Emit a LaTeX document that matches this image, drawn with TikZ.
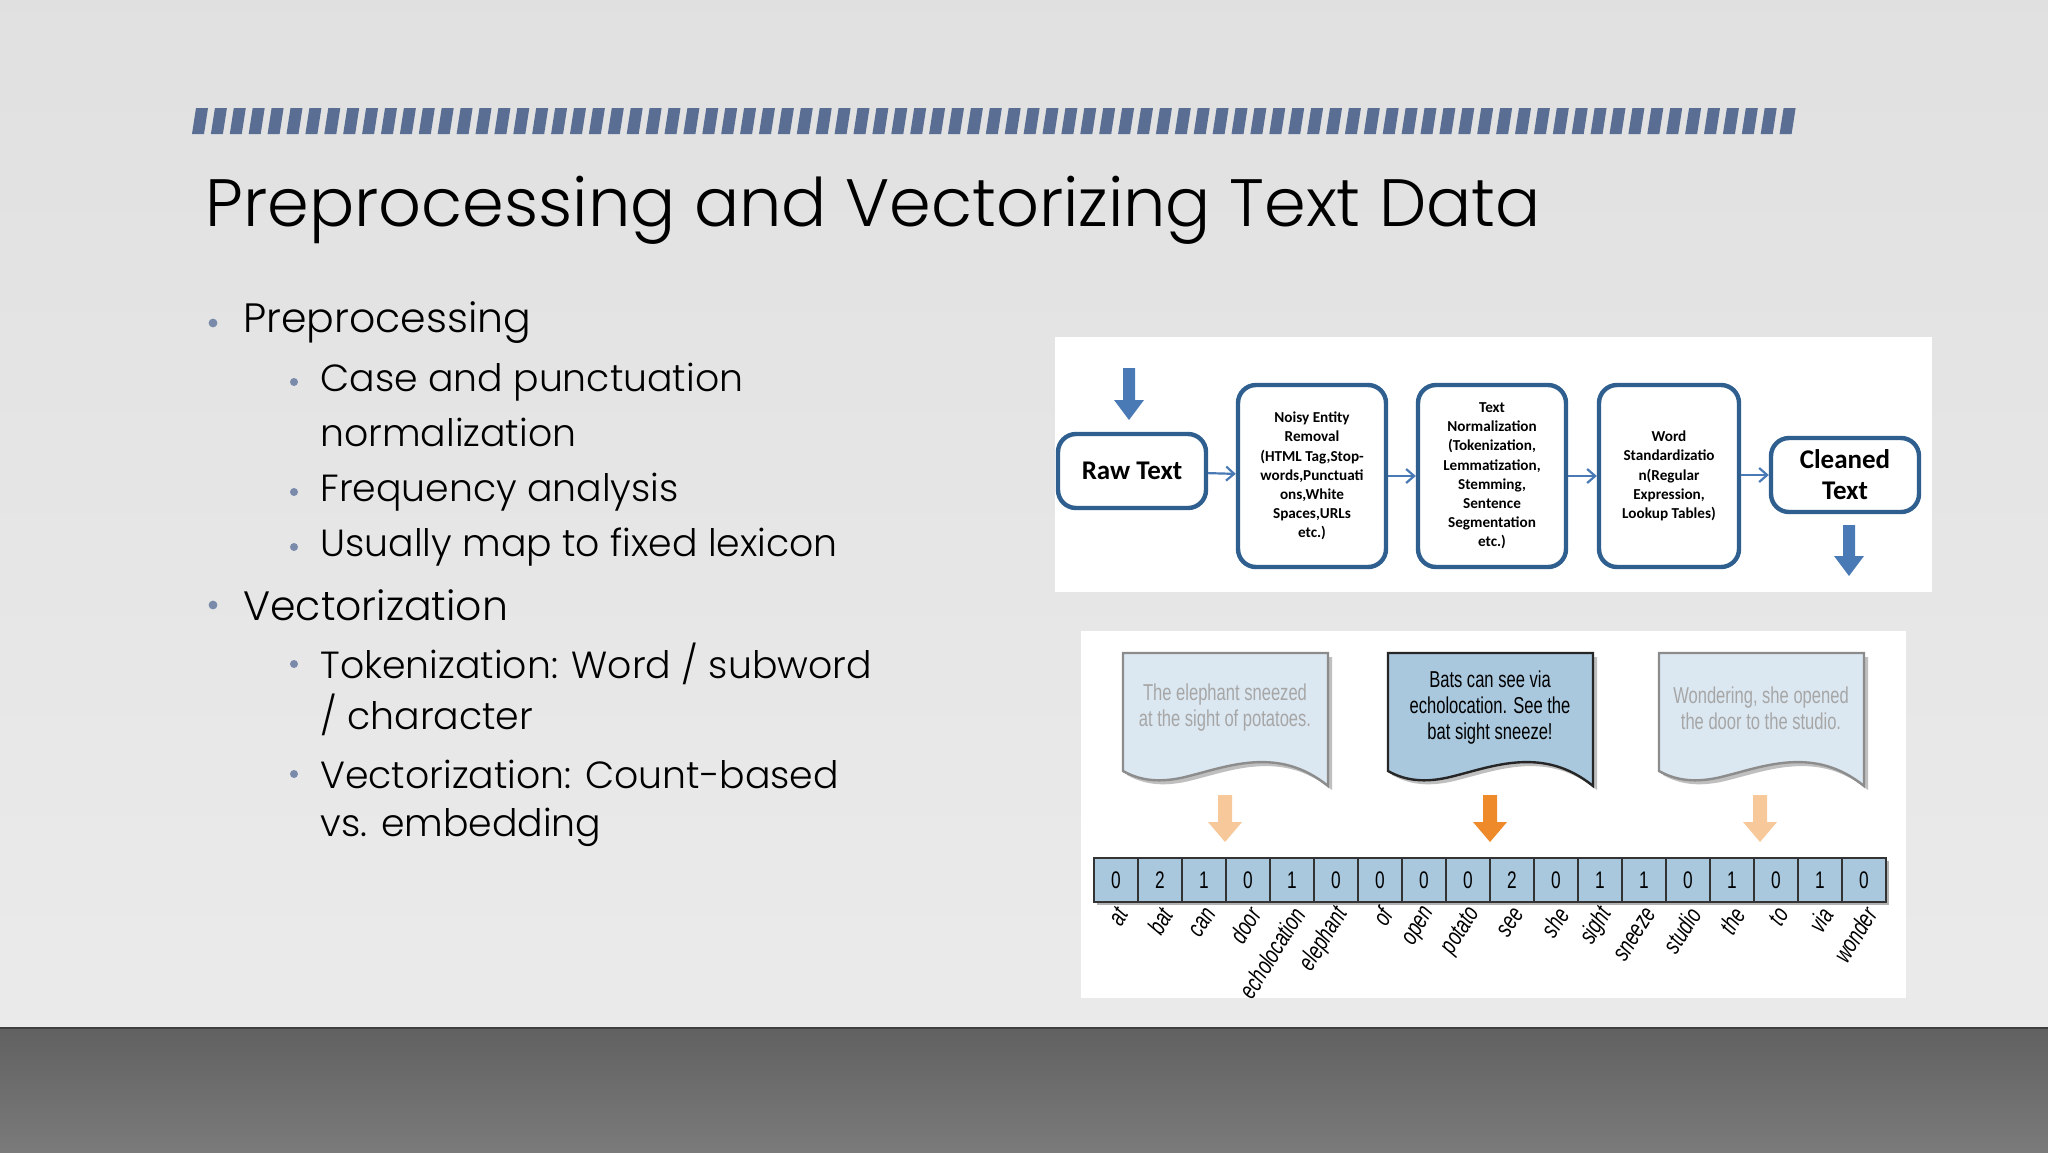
\documentclass[tikz,border=0pt]{standalone}
\usepackage{fontspec}
\setmainfont{Poppins}[UprightFont=* Light]
\newfontfamily\calib{Carlito}
\newfontfamily\cond[FakeStretch=0.72]{Liberation Sans}
\usetikzlibrary{arrows.meta}
\definecolor{stripe}{HTML}{5A6E94}
\definecolor{fblue}{HTML}{2F5F8F}
\definecolor{ablue}{HTML}{4A7AB5}
\definecolor{cellb}{HTML}{A9C8DE}
\definecolor{docl}{HTML}{DCE8F1}
\definecolor{docd}{HTML}{A9C8DE}
\definecolor{orl}{HTML}{F7C99A}
\definecolor{ord}{HTML}{EE8A2A}
\definecolor{bul}{HTML}{7A8AAA}
\tikzset{
  fbox/.style={draw=fblue,line width=2.2pt,rounded corners=9pt,fill=white,align=center,font=\calib\bfseries\fontsize{7.6}{9.6}\selectfont,inner sep=1pt},
  farr/.style={-{Straight Barb[length=4pt,width=7pt]},draw=ablue,line width=1.1pt},
  cell/.style={draw=black!80,line width=0.8pt,fill=cellb,minimum width=22pt,minimum height=22pt,inner sep=0pt,font=\cond\fontsize{12}{12}\selectfont},
  wlab/.style={rotate=58,anchor=east,font=\cond\itshape\fontsize{12.5}{12}\selectfont,inner sep=1pt},
  btext/.style={anchor=west,font=\fontsize{20.5}{24}\selectfont,inner sep=0pt},
  stext/.style={anchor=west,font=\fontsize{18.9}{22}\selectfont,inner sep=0pt},
}
\newcommand{\fatarrow}[7]{\fill[#1] (#2-#5,#3) -- (#2+#5,#3) -- (#2+#5,#4-#7) -- (#2+#6,#4-#7) -- (#2,#4) -- (#2-#6,#4-#7) -- (#2-#5,#4-#7) -- cycle;}
\begin{document}
\begin{tikzpicture}[x=0.5pt,y=-0.5pt]
\useasboundingbox (0,0) rectangle (2048,1152);
% background
\shade[top color=black!12,bottom color=black!8] (0,0) rectangle (2048,1028);
\shade[top color=black!62,bottom color=black!52] (0,1028) rectangle (2048,1152);
\draw[black!75,line width=1pt] (0,1028) -- (2048,1028);
% stripes
\foreach \i in {0,...,84} {
  \fill[stripe] ({196+\i*18.9},108) -- ({196+\i*18.9+12},108) -- ({192+\i*18.9+12},134) -- ({192+\i*18.9},134) -- cycle;
}
% title
\node[anchor=base west,inner sep=0pt,font=\fontsize{33.5}{40}\selectfont] (title) at (205,226) {Preprocessing and Vectorizing Text Data};
% bullets
\node[btext] (b1) at (243,323) {Preprocessing};
\node[stext] (s1) at (320,382) {Case and punctuation};
\node[stext] (s1b) at (320,432) {normalization};
\node[stext] (s2) at (320,492) {Frequency analysis};
\node[stext] (s3) at (320,547) {Usually map to fixed lexicon};
\node[btext] (b2) at (243,605) {Vectorization};
\node[stext] (s4) at (320,664) {Tokenization: Word / subword};
\node[stext] (s4b) at (320,715) {/ character};
\node[stext] (s5) at (320,774) {Vectorization: Count-based};
\node[stext] (s5b) at (320,827) {vs. embedding};
\foreach \n in {b1,b2} \fill[bul] ([xshift=-15pt]\n.west) circle (2.2pt);
\foreach \n in {s1,s2,s3,s4,s5} \fill[bul] ([xshift=-13pt]\n.west) circle (2pt);
% flowchart panel
\fill[white] (1055,337) rectangle (1932,592);
\node[fbox,minimum width=74pt,minimum height=37pt,font=\calib\bfseries\fontsize{13.5}{15}\selectfont] (raw) at (1132,471) {Raw Text};
\node[fbox,minimum width=74pt,minimum height=91pt] (noisy) at (1312,476) {Noisy Entity\\Removal\\(HTML Tag,Stop-\\words,Punctuati\\ons,White\\Spaces,URLs\\etc.)};
\node[fbox,minimum width=74pt,minimum height=91pt] (norm) at (1492,476) {Text\\Normalization\\(Tokenization,\\Lemmatization,\\Stemming,\\Sentence\\Segmentation\\etc.)};
\node[fbox,minimum width=70pt,minimum height=91pt] (word) at (1669,476) {Word\\Standardizatio\\n(Regular\\Expression,\\Lookup Tables)};
\node[fbox,minimum width=74pt,minimum height=37pt,font=\calib\bfseries\fontsize{13.5}{15.5}\selectfont] (clean) at (1845,475) {Cleaned\\Text};
\draw[farr] (raw) -- (noisy);
\draw[farr] (noisy) -- (norm);
\draw[farr] (norm) -- (word);
\draw[farr] (word.east|-clean) -- (clean);
\fatarrow{ablue}{1129}{368}{420}{6}{15}{20}
\fatarrow{ablue}{1849}{525}{576}{6}{15}{20}
% vector panel
\fill[white] (1081,631) rectangle (1906,998);
\foreach \nm/\xa/\col/\dr/\tc/\txt in {
 d1/1123/docl/black!45/black!35/{The elephant sneezed\\at the sight of potatoes.},
 d2/1388/docd/black!85/black/{Bats can see via\\echolocation. See the\\bat sight sneeze!},
 d3/1659/docl/black!45/black!35/{Wondering, she opened\\the door to the studio.}} {
  \fill[black!25] (\xa+4,657) -- (\xa+209,657) -- (\xa+209,790) .. controls (\xa+160,750) and (\xa+110,770) .. (\xa+70,780) .. controls (\xa+40,788) and (\xa+20,784) .. (\xa+4,775) -- cycle;
  \draw[draw=\dr,fill=\col,line width=1.2pt] (\xa,653) -- (\xa+205,653) -- (\xa+205,786) .. controls (\xa+156,746) and (\xa+106,766) .. (\xa+66,776) .. controls (\xa+36,784) and (\xa+16,780) .. (\xa,771) -- cycle;
  \node[align=center,text=\tc,font=\cond\fontsize{11.5}{13}\selectfont] (\nm) at (\xa+102,708) {\txt};
}
\fatarrow{orl}{1225}{795}{842}{7}{17}{20}
\fatarrow{ord}{1490}{795}{842}{7}{17}{20}
\fatarrow{orl}{1760}{795}{842}{7}{17}{20}
\fill[black!30] (1097,861) rectangle (1889,905);
\foreach \v [count=\i from 0] in {0,2,1,0,1,0,0,0,0,2,0,1,1,0,1,0,1,0} {
  \node[cell] (c\i) at ({1116+\i*44},880) {\v};
}
\foreach \w [count=\i from 0] in {at,bat,can,door,echolocation,elephant,of,open,potato,see,she,sight,sneeze,studio,the,to,via,wonder} {
  \node[wlab] (l\i) at ({1124+\i*44},908) {\w};
}
\end{tikzpicture}
\end{document}
